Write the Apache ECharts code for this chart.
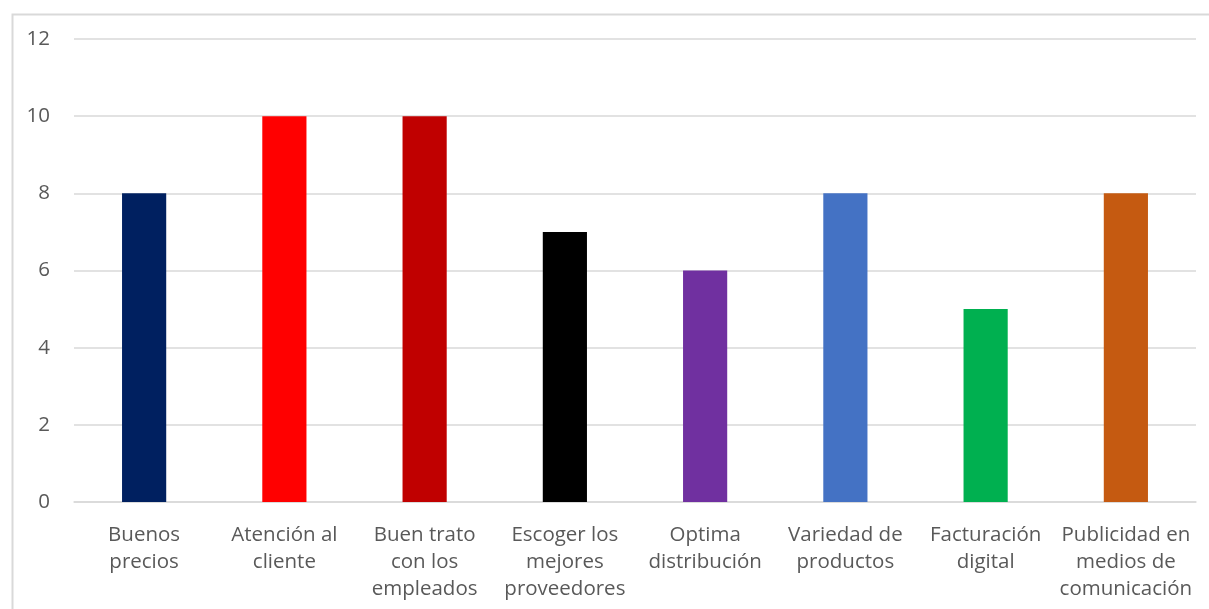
<!DOCTYPE html>
<html>
<head>
<meta charset="utf-8">
<script src="https://cdn.jsdelivr.net/npm/echarts@6/dist/echarts.min.js"></script>
<style>html,body{margin:0;padding:0;background:#fff;}#c{width:1209px;height:609px;}</style>
</head>
<body>
<div id="c"></div>
<script>
const categories = ["Buenos\nprecios", "Atención al\ncliente", "Buen trato\ncon los\nempleados", "Escoger los\nmejores\nproveedores", "Optima\ndistribución", "Variedad de\nproductos", "Facturación\ndigital", "Publicidad en\nmedios de\ncomunicación"];
const values = [8, 10, 10, 7, 6, 8, 5, 8];
const barColors = ["#002060", "#FF0000", "#C00000", "#000000", "#7030A0", "#4472C4", "#00B050", "#C55A11"];
const yTicks = [0, 2, 4, 6, 8, 10, 12];

const chart = echarts.init(document.getElementById('c'), null, {renderer: 'canvas'});
chart.setOption({
  animation: false,
  backgroundColor: '#fff',
  graphic: [{
    type: 'rect', left: 10, top: 12, z: -1,
    shape: {width: 1220, height: 620},
    style: {fill: 'none', stroke: '#d9d9d9', lineWidth: 2}
  }],
  grid: {left: 74, right: 13, top: 39, bottom: 107, containLabel: false},
  xAxis: {
    type: 'category',
    data: categories,
    axisLine: {show: true, lineStyle: {color: '#d9d9d9', width: 1.5}},
    axisTick: {show: false},
    axisLabel: {
      interval: 0, margin: 20, color: '#595959',
      fontFamily: 'Open Sans', fontSize: 20.5, lineHeight: 27
    }
  },
  yAxis: {
    type: 'value', min: yTicks[0], max: yTicks[yTicks.length - 1], interval: 2,
    axisLine: {show: false}, axisTick: {show: false},
    splitLine: {lineStyle: {color: '#d9d9d9', width: 1.5}},
    axisLabel: {margin: 24, color: '#595959', fontFamily: 'Open Sans', fontSize: 20.5}
  },
  series: [{
    type: 'bar',
    barWidth: '31.5%',
    data: values.map((v, i) => ({value: v, itemStyle: {color: barColors[i]}}))
  }]
});
</script>
</body>
</html>
